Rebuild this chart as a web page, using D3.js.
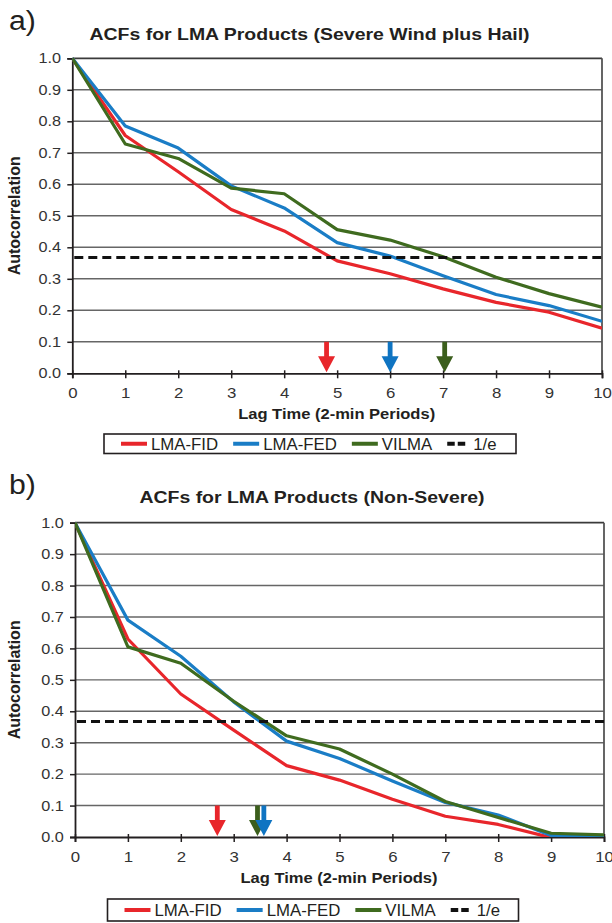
<!DOCTYPE html>
<html>
<head>
<meta charset="utf-8">
<script src="https://cdn.jsdelivr.net/npm/d3@7"></script>
<style>
  body { margin: 0; background: #fff; }
  svg { display: block; }
  text { font-family: "Liberation Sans", Arial, sans-serif; }
</style>
</head>
<body>
<svg id="chart" width="612" height="923"></svg>
<script>
// Lag axis (2-minute periods) and autocorrelation ticks
const lags = [0, 1, 2, 3, 4, 5, 6, 7, 8, 9, 10];
const yTicks = [0, 0.1, 0.2, 0.3, 0.4, 0.5, 0.6, 0.7, 0.8, 0.9, 1.0];
const seriesNames = ["LMA-FID", "LMA-FED", "VILMA"];
const seriesColors = ["#e8262b", "#1a7dc6", "#3f6b1f"];
const arrowColors = ["#e8262b", "#0f74c2", "#3b5e1c"];

// Panel a: severe wind plus hail
const severeFID = [1.0, 0.755, 0.64, 0.52, 0.452, 0.357, 0.316, 0.268, 0.225, 0.194, 0.143];
const severeFED = [1.0, 0.785, 0.715, 0.595, 0.525, 0.415, 0.372, 0.31, 0.25, 0.215, 0.165];
const severeVILMA = [1.0, 0.728, 0.682, 0.588, 0.57, 0.456, 0.423, 0.37, 0.305, 0.253, 0.21];
// lag at which each ACF drops below 1/e (FID, FED, VILMA)
const severeArrowLags = [4.8, 6.0, 7.03];

// Panel b: non-severe
const nonSevereFID = [1.0, 0.63, 0.455, 0.34, 0.227, 0.181, 0.12, 0.066, 0.04, -0.002, -0.02];
const nonSevereFED = [1.0, 0.69, 0.575, 0.43, 0.305, 0.25, 0.178, 0.11, 0.07, 0.005, 0.0];
const nonSevereVILMA = [1.0, 0.605, 0.553, 0.432, 0.322, 0.28, 0.2, 0.113, 0.062, 0.012, 0.007];
const nonSevereArrowLags = [2.69, 3.57, 3.45];

// e-folding threshold
const eFold = 1 / Math.E;

const legendItems = ["LMA-FID", "LMA-FED", "VILMA", "1/e"];

// the typeface is set slightly wide
const WIDE = 1.18;

const svg = d3.select("#chart");

function wideText(parent, x, y, str, size, opts = {}) {
  const sx = opts.sx || WIDE;
  const rot = opts.rotate ? ` rotate(${opts.rotate})` : "";
  return parent.append("text")
    .attr("transform", `translate(${x},${y}) scale(${sx},1)${rot}`)
    .attr("text-anchor", opts.anchor || "start")
    .attr("font-size", size)
    .attr("font-weight", opts.bold ? "bold" : "normal")
    .attr("fill", opts.fill || "#231f20")
    .text(str);
}

const panels = [
  {
    tag: "a)", title: "ACFs for LMA Products (Severe Wind plus Hail)",
    series: [severeFID, severeFED, severeVILMA], arrows: severeArrowLags,
    box: { left: 72.3, right: 602, top: 58.3, bottom: 373.3 },
    titleX: 309.5, titleY: 39.5, tagX: 9, tagY: 30,
    legend: { left: 104, right: 516, top: 434, bottom: 453.5 }
  },
  {
    tag: "b)", title: "ACFs for LMA Products (Non-Severe)",
    series: [nonSevereFID, nonSevereFED, nonSevereVILMA], arrows: nonSevereArrowLags,
    box: { left: 75, right: 604, top: 522.7, bottom: 837 },
    titleX: 312, titleY: 502.5, tagX: 9, tagY: 494,
    legend: { left: 107.5, right: 518.5, top: 899, bottom: 921 }
  }
];

panels.forEach((p, pi) => {
  const g = svg.append("g");
  const x = d3.scaleLinear().domain([0, 10]).range([p.box.left, p.box.right]);
  const y = d3.scaleLinear().domain([0, 1]).range([p.box.bottom, p.box.top]);

  // panel tag and title
  wideText(g, p.tagX, p.tagY, p.tag, 27, { sx: 1.12 });
  wideText(g, p.titleX, p.titleY, p.title, 16.5, { bold: true, anchor: "middle" });

  // horizontal gridlines
  g.append("g").selectAll("line").data(yTicks.filter(v => v > 0)).join("line")
    .attr("x1", p.box.left).attr("x2", p.box.right)
    .attr("y1", d => y(d)).attr("y2", d => y(d))
    .attr("stroke", d => d === 1 ? "#3a3a3a" : "#666")
    .attr("stroke-width", d => d === 1 ? 1.8 : 1.4);

  // right border
  g.append("line").attr("x1", p.box.right).attr("x2", p.box.right)
    .attr("y1", p.box.top).attr("y2", p.box.bottom)
    .attr("stroke", "#555").attr("stroke-width", 1.8);

  // axes
  const yAxis = g.append("g").attr("transform", `translate(${p.box.left},0)`)
    .call(d3.axisLeft(y).tickValues(yTicks).tickFormat(d3.format(".1f")).tickSize(5).tickPadding(5));
  const xAxis = g.append("g").attr("transform", `translate(0,${p.box.bottom})`)
    .call(d3.axisBottom(x).tickValues(lags).tickFormat(d3.format("d")).tickSize(5).tickPadding(9));
  [yAxis, xAxis].forEach(a => {
    a.select(".domain").attr("stroke", "#231f20").attr("stroke-width", 1.8);
    a.selectAll(".tick line").attr("stroke", "#231f20").attr("stroke-width", 1.5);
    a.selectAll(".tick text").attr("fill", "#333").attr("font-size", 15)
      .attr("font-family", "'Liberation Sans', Arial, sans-serif")
      .attr("transform", "scale(1.12,1)");
  });
  yAxis.selectAll(".tick text").attr("font-size", 14.5);
  xAxis.selectAll(".tick line").attr("y1", -3);

  // axis titles
  wideText(g, 20, (p.box.top + p.box.bottom) / 2, "Autocorrelation", 16,
    { bold: true, anchor: "middle", rotate: -90, sx: 1.05 });
  wideText(g, (p.box.left + p.box.right) / 2 - 0.5, p.box.bottom + 46,
    "Lag Time (2-min Periods)", 14.5, { bold: true, anchor: "middle", sx: 1.14 });

  // clip to the plot area
  const clipId = "clip" + pi;
  svg.append("clipPath").attr("id", clipId).append("rect")
    .attr("x", p.box.left).attr("y", p.box.top - 3)
    .attr("width", p.box.right - p.box.left).attr("height", p.box.bottom - p.box.top + 3);

  // ACF lines
  const line = d3.line().x((d, i) => x(lags[i])).y(d => y(d));
  const lineG = g.append("g").attr("clip-path", `url(#${clipId})`);
  p.series.forEach((vals, si) => {
    lineG.append("path").datum(vals).attr("d", line)
      .attr("fill", "none").attr("stroke", seriesColors[si])
      .attr("stroke-width", 3.2).attr("stroke-linejoin", "round");
  });

  // 1/e threshold
  g.append("line").attr("x1", p.box.left + 2).attr("x2", p.box.right)
    .attr("y1", y(eFold)).attr("y2", y(eFold))
    .attr("stroke", "#111").attr("stroke-width", 3).attr("stroke-dasharray", "9,5");

  // arrows marking the 1/e crossing lags (FED drawn last, on top)
  [0, 2, 1].forEach(si => {
    const lag = p.arrows[si];
    const cx = x(lag), yTop = y(0.1), yTip = y(0) - 1, headH = 16, headW = 8.5, shaftW = 2.4;
    const pts = [
      [cx - shaftW, yTop], [cx + shaftW, yTop], [cx + shaftW, yTip - headH],
      [cx + headW, yTip - headH], [cx, yTip], [cx - headW, yTip - headH],
      [cx - shaftW, yTip - headH]
    ];
    g.append("polygon").attr("points", pts.map(d => d.join(",")).join(" "))
      .attr("fill", arrowColors[si]);
  });

  // legend
  const L = p.legend;
  const lg = g.append("g");
  lg.append("rect").attr("x", L.left).attr("y", L.top)
    .attr("width", L.right - L.left).attr("height", L.bottom - L.top)
    .attr("fill", "#fff").attr("stroke", "#231f20").attr("stroke-width", 1.6);
  const cy = (L.top + L.bottom) / 2;
  const legendSx = 1.05;
  let cursor = L.left + 17;
  legendItems.forEach((name, i) => {
    const isRef = i === 3;
    const len = isRef ? 18 : 26;
    lg.append("line").attr("x1", cursor).attr("x2", cursor + len)
      .attr("y1", cy).attr("y2", cy)
      .attr("stroke", isRef ? "#111" : seriesColors[i]).attr("stroke-width", 4)
      .attr("stroke-dasharray", isRef ? "7.5,3" : null);
    cursor += len + (isRef ? 8 : 4);
    const t = wideText(lg, cursor, cy + 6, name, 16, { sx: legendSx });
    cursor += t.node().getComputedTextLength() * legendSx + 15;
  });
});
</script>
</body>
</html>
